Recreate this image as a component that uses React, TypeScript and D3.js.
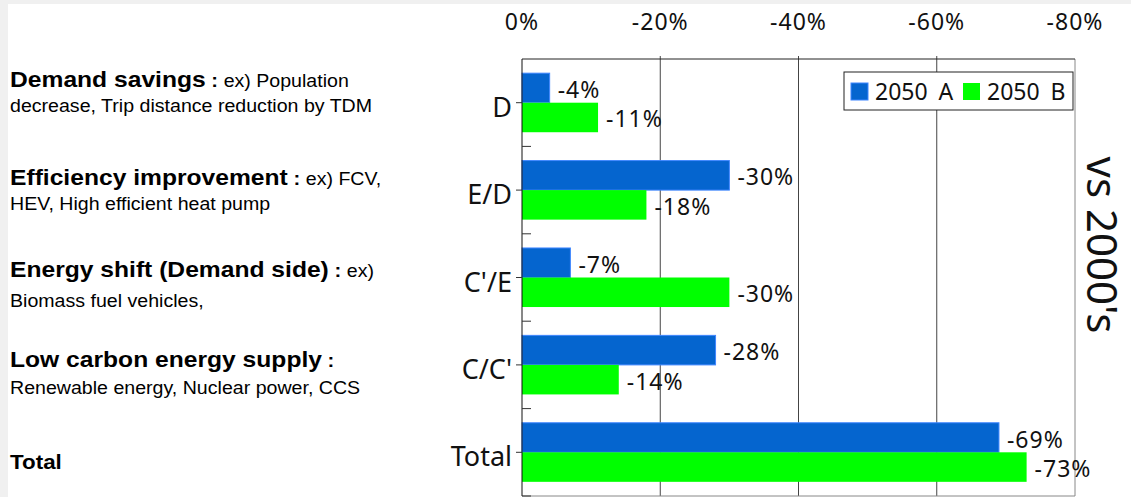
import { useEffect, useRef } from 'react'
import * as d3 from 'd3'

const categories = ['D', 'E/D', "C'/E", "C/C'", 'Total']
const seriesNames = ['2050 A', '2050 B']
const valuesA = [-4, -30, -7, -28, -69]
const valuesB = [-11, -18, -30, -14, -73]
const xTicks = [0, -20, -40, -60, -80]

const notes = [
  { head: 'Demand savings', colon: ' : ', tail: 'ex) Population', line2: 'decrease, Trip distance reduction by TDM' },
  { head: 'Efficiency improvement', colon: ' : ', tail: 'ex) FCV,', line2: 'HEV, High efficient heat pump' },
  { head: 'Energy shift (Demand side)', colon: ' : ', tail: 'ex)', line2: 'Biomass fuel vehicles,' },
  { head: 'Low carbon energy supply', colon: ' : ', tail: '', line2: 'Renewable energy, Nuclear power, CCS' },
  { head: 'Total', colon: '', tail: '', line2: '' },
]

const W = 1131
const H = 497

export default function App() {
  const ref = useRef<SVGSVGElement | null>(null)

  useEffect(() => {
    const svg = d3.select(ref.current)
    svg.selectAll('*').remove()

    const font = '"Noto Sans", "DejaVu Sans", sans-serif'
    const sideFont = '"Liberation Sans", Arial, sans-serif'
    const blue = '#0565cf'
    const green = '#00ff00'

    svg.append('rect').attr('width', W).attr('height', H).attr('fill', '#f0f0f0')
    svg.append('rect').attr('x', 8).attr('y', 4).attr('width', W - 8).attr('height', H - 4).attr('fill', '#fff')

    const margin = { top: 59, left: 522, right: 1075, bottom: 496 }

    const x = d3.scaleLinear().domain([0, -80]).range([margin.left, margin.right])
    const y = d3.scaleBand().domain(categories).range([margin.top, margin.bottom]).padding(0)
    const inner = d3.scaleBand().domain(seriesNames).range([0, y.bandwidth()]).paddingInner(0).paddingOuter(0.48)

    // grid lines
    svg.append('g')
      .selectAll('line')
      .data(xTicks.slice(1, -1))
      .enter().append('line')
      .attr('x1', d => x(d)).attr('x2', d => x(d))
      .attr('y1', margin.top - 3).attr('y2', margin.bottom)
      .attr('stroke', '#444').attr('stroke-width', 1)

    // frame
    svg.append('line').attr('x1', margin.right).attr('x2', margin.right)
      .attr('y1', margin.top).attr('y2', margin.bottom).attr('stroke', '#888')
    svg.append('line').attr('x1', margin.left).attr('x2', margin.right)
      .attr('y1', margin.bottom).attr('y2', margin.bottom).attr('stroke', '#888')
    svg.append('line').attr('x1', margin.left).attr('x2', margin.right)
      .attr('y1', margin.top).attr('y2', margin.top).attr('stroke', '#222')

    // top tick labels
    svg.append('g')
      .selectAll('text')
      .data(xTicks)
      .enter().append('text')
      .attr('x', d => x(d))
      .attr('y', 30)
      .attr('text-anchor', 'middle')
      .style('font-family', font)
      .style('font-size', '23px')
      .style('letter-spacing', '1px')
      .attr('fill', '#111')
      .text(d => `${d}%`)

    // bars
    const groups = svg.append('g')
      .selectAll('g')
      .data(categories.map((c, i) => ({ c, vals: [valuesA[i], valuesB[i]] })))
      .enter().append('g')
      .attr('transform', d => `translate(0,${y(d.c)})`)

    groups.selectAll('rect')
      .data(d => d.vals.map((v, j) => ({ v, s: seriesNames[j] })))
      .enter().append('rect')
      .attr('x', x(0))
      .attr('y', d => inner(d.s)!)
      .attr('width', d => x(d.v) - x(0))
      .attr('height', inner.bandwidth())
      .attr('fill', d => (d.s === seriesNames[0] ? blue : green))
      .attr('stroke', d => (d.s === seriesNames[0] ? '#3f86ff' : 'none'))
      .attr('stroke-width', 1)

    groups.selectAll('text')
      .data(d => d.vals.map((v, j) => ({ v, s: seriesNames[j] })))
      .enter().append('text')
      .attr('x', d => x(d.v) + 8)
      .attr('y', d => inner(d.s)! + inner.bandwidth() / 2 + 10)
      .style('font-family', font)
      .style('font-size', '23px')
      .style('letter-spacing', '1px')
      .attr('fill', '#111')
      .text(d => `${d.v}%`)

    // left axis
    svg.append('line').attr('x1', margin.left).attr('x2', margin.left)
      .attr('y1', margin.top).attr('y2', margin.bottom).attr('stroke', '#111')

    svg.append('g')
      .selectAll('line')
      .data(categories)
      .enter().append('line')
      .attr('x1', margin.left - 6).attr('x2', margin.left)
      .attr('y1', d => y(d)! + y.bandwidth() / 2).attr('y2', d => y(d)! + y.bandwidth() / 2)
      .attr('stroke', '#333')

    svg.append('g')
      .selectAll('line')
      .data(categories)
      .enter().append('line')
      .attr('x1', margin.left).attr('x2', margin.left + 9)
      .attr('y1', d => y(d)! + y.bandwidth()).attr('y2', d => y(d)! + y.bandwidth())
      .attr('stroke', '#333')

    svg.append('g')
      .selectAll('text')
      .data(categories)
      .enter().append('text')
      .attr('x', margin.left - 10)
      .attr('y', d => y(d)! + y.bandwidth() / 2 + 14)
      .attr('text-anchor', 'end')
      .style('font-family', font)
      .style('font-size', '27px')
      .attr('fill', '#111')
      .text(d => d)

    // legend
    const lg = svg.append('g').attr('transform', 'translate(844,72)')
    lg.append('rect').attr('width', 229).attr('height', 38).attr('fill', '#fff').attr('stroke', '#222')
    const items = [
      { name: seriesNames[0], color: blue, x: 7 },
      { name: seriesNames[1], color: green, x: 119 },
    ]
    items.forEach(it => {
      lg.append('rect').attr('x', it.x).attr('y', 11).attr('width', 17).attr('height', 17)
        .attr('fill', it.color).attr('stroke', it.color === blue ? '#3f86ff' : 'none')
      lg.append('text').attr('x', it.x + 24).attr('y', 28)
        .style('font-family', font).style('font-size', '23px')
        .style('word-spacing', '5px')
        .attr('fill', '#111').text(it.name)
    })

    // right rotated label
    svg.append('text')
      .attr('transform', 'translate(1087,245) rotate(90)')
      .attr('text-anchor', 'middle')
      .style('font-family', font)
      .style('font-size', '42px')
      .attr('fill', '#111')
      .text("vs 2000's")

    // left notes
    const noteY = [87, 185, 277, 367, 469]
    const line2Y = [112, 210, 307, 394]
    const ng = svg.append('g').attr('transform', 'translate(10,0) scale(1.12,1)')
    notes.forEach((n, i) => {
      const t = ng.append('text').attr('x', 0).attr('y', noteY[i])
        .style('font-family', sideFont).attr('fill', '#000')
      t.append('tspan').style('font-weight', 'bold')
        .style('font-size', i === 4 ? '20px' : '22px').text(n.head)
      if (n.colon) t.append('tspan').style('font-weight', 'bold').style('font-size', '18px').text(n.colon)
      if (n.tail) t.append('tspan').style('font-size', '17.5px').text(n.tail)
      if (n.line2) {
        ng.append('text').attr('x', 0).attr('y', line2Y[i])
          .style('font-family', sideFont).style('font-size', '17.5px')
          .attr('fill', '#000').text(n.line2)
      }
    })
  }, [])

  return (
    <svg ref={ref} width={W} height={H}
      style={{ position: 'absolute', left: 0, top: 0, display: 'block' }} />
  )
}
